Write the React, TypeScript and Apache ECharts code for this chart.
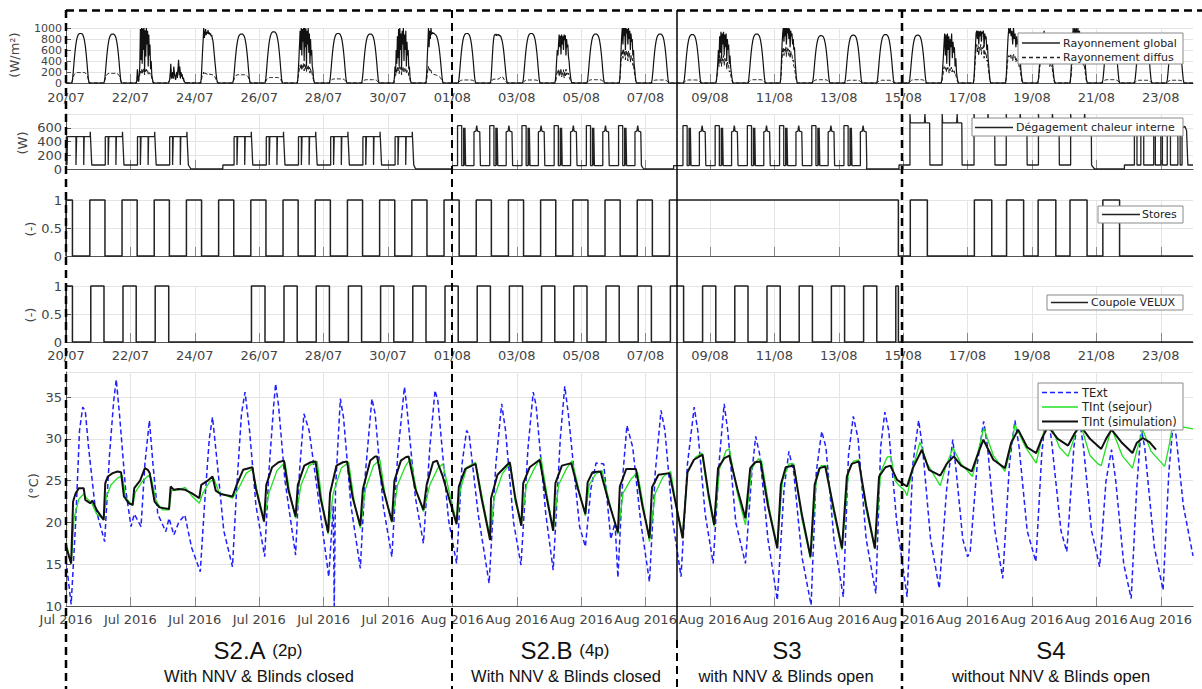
import React, { useEffect, useRef } from "react";
import * as echarts from "echarts";

// ---------- axis ticks ----------
const TICK_DAYS = [0, 2, 4, 6, 8, 10, 12, 14, 16, 18, 20, 22, 24, 26, 28, 30, 32, 34];
const DATE_LABELS = ["20/07", "22/07", "24/07", "26/07", "28/07", "30/07", "01/08", "03/08", "05/08", "07/08", "09/08", "11/08", "13/08", "15/08", "17/08", "19/08", "21/08", "23/08"];
const MONTH_LABELS = ["Jul 2016", "Jul 2016", "Jul 2016", "Jul 2016", "Jul 2016", "Jul 2016", "Aug 2016", "Aug 2016", "Aug 2016", "Aug 2016", "Aug 2016", "Aug 2016", "Aug 2016", "Aug 2016", "Aug 2016", "Aug 2016", "Aug 2016", "Aug 2016"];

// ---------- solar radiation (W/m2) ----------
const RAD_WINDOW = [0.18, 0.72];
const CLEAR_GLOBAL_SHAPE = [0, 0.08, 0.25, 0.45, 0.62, 0.76, 0.86, 0.93, 0.97, 0.99, 1.0, 1.0, 1.0, 0.99, 0.97, 0.93, 0.86, 0.76, 0.62, 0.45, 0.25, 0.08, 0];
const CLEAR_DIFFUSE_SHAPE = [0, 0.3, 0.6, 0.8, 0.9, 0.95, 1, 1, 1, 1, 1, 1, 1, 1, 1, 1, 1, 0.95, 0.9, 0.8, 0.6, 0.3, 0];
const CLEAR_DAYS = [0, 1, 5, 6, 8, 9, 12, 14, 16, 18, 19, 21, 23, 24, 25, 26, 32, 33, 34];
const CLEAR_PEAKS = [900, 890, 890, 930, 900, 890, 900, 900, 890, 890, 880, 890, 860, 870, 880, 870, 880, 880, 880];
const CLEAR_DIFFUSE = [190, 175, 150, 100, 75, 60, 55, 55, 60, 55, 55, 60, 60, 50, 50, 60, 60, 50, 50];
const CLOUDY_DAYS = [2, 3, 4, 7, 10, 11, 13, 15, 17, 20, 22, 27, 28, 29, 30, 31];
const CLOUDY_GLOBAL = [
  [0, 40, 250, 60, 30, 150, 300, 980, 420, 1000, 350, 990, 600, 1000, 200, 960, 480, 1000, 700, 950, 300, 880, 500, 700, 250, 400, 150, 80, 20, 0],
  [0, 20, 60, 150, 350, 80, 120, 200, 90, 300, 180, 110, 60, 150, 200, 100, 250, 420, 180, 300, 90, 200, 130, 160, 70, 100, 40, 20, 10, 0],
  [0, 80, 300, 550, 750, 1000, 820, 900, 980, 870, 930, 900, 960, 890, 920, 880, 900, 850, 870, 800, 760, 650, 520, 400, 280, 160, 70, 20, 0],
  [0, 60, 250, 450, 700, 950, 600, 1000, 500, 980, 750, 1000, 400, 1000, 650, 990, 300, 950, 700, 1000, 550, 900, 350, 800, 500, 600, 300, 250, 100, 30, 0],
  [0, 100, 300, 200, 600, 350, 850, 450, 980, 300, 1000, 600, 900, 250, 950, 700, 1000, 400, 880, 600, 950, 300, 750, 500, 600, 250, 300, 120, 40, 0],
  [0, 150, 450, 700, 1000, 650, 950, 800, 1000, 880, 920, 900, 910, 900, 890, 880, 870, 850, 820, 780, 720, 650, 560, 450, 330, 200, 90, 20, 0],
  [0, 60, 250, 450, 650, 780, 860, 880, 870, 890, 860, 880, 870, 885, 860, 870, 850, 840, 800, 760, 700, 620, 520, 400, 280, 160, 60, 10, 0],
  [0, 50, 200, 420, 600, 500, 700, 880, 650, 860, 520, 880, 700, 850, 600, 880, 780, 870, 500, 800, 650, 700, 480, 400, 250, 150, 60, 10, 0],
  [0, 80, 300, 600, 850, 1000, 700, 1000, 850, 1000, 600, 1000, 900, 980, 700, 1000, 800, 950, 600, 900, 750, 800, 500, 600, 350, 250, 120, 30, 0],
  [0, 50, 180, 350, 600, 400, 850, 550, 930, 450, 900, 700, 930, 500, 880, 650, 900, 400, 800, 600, 700, 350, 500, 300, 200, 100, 30, 0],
  [0, 100, 400, 700, 900, 1000, 750, 1000, 850, 1000, 700, 1000, 900, 1000, 800, 990, 650, 950, 850, 900, 700, 800, 600, 650, 400, 250, 100, 20, 0],
  [0, 60, 250, 450, 700, 900, 500, 880, 350, 900, 600, 850, 300, 800, 650, 900, 450, 750, 550, 650, 300, 450, 200, 100, 30, 0],
  [0, 100, 350, 650, 900, 950, 800, 950, 700, 940, 850, 950, 750, 930, 900, 950, 650, 900, 800, 850, 600, 700, 450, 300, 150, 40, 0],
  [0, 150, 500, 800, 1000, 900, 1000, 850, 950, 700, 1000, 800, 900, 650, 850, 700, 800, 500, 600, 300, 150, 40, 0],
  [0, 100, 300, 500, 800, 600, 900, 500, 950, 700, 900, 550, 850, 650, 800, 450, 700, 500, 550, 300, 150, 40, 0],
  [0, 120, 400, 700, 1000, 800, 1000, 900, 1000, 750, 1000, 850, 950, 700, 900, 800, 850, 600, 700, 400, 200, 50, 0],
];
const CLOUDY_DIFFUSE = [
  [0, 30, 120, 50, 30, 100, 150, 220, 180, 250, 160, 240, 200, 260, 150, 240, 190, 250, 210, 230, 160, 200, 170, 180, 130, 140, 90, 50, 15, 0],
  [0, 20, 50, 120, 250, 70, 100, 160, 80, 220, 150, 100, 60, 130, 170, 90, 200, 300, 150, 240, 80, 170, 110, 130, 60, 80, 30, 15, 5, 0],
  [0, 40, 100, 140, 160, 200, 150, 170, 180, 160, 170, 160, 170, 160, 165, 160, 160, 155, 150, 150, 145, 140, 130, 110, 90, 60, 30, 10, 0],
  [0, 40, 120, 200, 280, 320, 250, 350, 230, 330, 280, 360, 220, 340, 260, 330, 200, 310, 260, 320, 230, 290, 180, 260, 200, 220, 150, 110, 60, 20, 0],
  [0, 60, 150, 120, 250, 180, 300, 220, 280, 170, 300, 240, 280, 150, 280, 230, 290, 200, 260, 220, 270, 170, 230, 190, 200, 130, 120, 70, 20, 0],
  [0, 60, 150, 250, 300, 220, 260, 200, 230, 180, 170, 160, 160, 155, 150, 150, 145, 140, 140, 130, 125, 120, 110, 100, 80, 60, 35, 10, 0],
  [0, 15, 35, 55, 65, 70, 70, 75, 70, 75, 70, 75, 70, 75, 80, 90, 110, 120, 125, 110, 90, 70, 50, 35, 20, 10, 5, 0],
  [0, 20, 60, 150, 220, 180, 250, 120, 230, 150, 260, 110, 200, 150, 240, 90, 200, 130, 250, 150, 200, 160, 180, 120, 80, 50, 20, 5, 0],
  [0, 60, 200, 400, 550, 600, 450, 620, 500, 580, 420, 600, 520, 560, 400, 580, 480, 540, 380, 500, 420, 450, 320, 350, 220, 150, 80, 20, 0],
  [0, 40, 120, 250, 400, 300, 500, 350, 480, 300, 450, 400, 500, 320, 450, 380, 430, 250, 380, 300, 320, 200, 220, 150, 100, 50, 15, 0],
  [0, 80, 250, 450, 600, 650, 500, 620, 550, 660, 480, 640, 560, 620, 500, 600, 450, 580, 500, 520, 400, 420, 300, 280, 200, 120, 50, 10, 0],
  [0, 40, 120, 200, 300, 250, 280, 200, 300, 250, 280, 180, 260, 220, 290, 200, 250, 210, 220, 150, 160, 100, 50, 15, 0],
  [0, 70, 250, 450, 650, 700, 550, 680, 500, 650, 600, 700, 520, 650, 620, 680, 450, 600, 520, 550, 400, 420, 300, 200, 100, 25, 0],
  [0, 100, 300, 450, 500, 480, 520, 450, 500, 400, 520, 450, 480, 380, 450, 400, 420, 300, 330, 180, 90, 20, 0],
  [0, 70, 200, 350, 450, 400, 500, 350, 520, 420, 480, 380, 460, 400, 430, 300, 380, 300, 300, 180, 90, 20, 0],
  [0, 80, 250, 400, 500, 450, 520, 480, 520, 420, 500, 450, 480, 400, 450, 420, 420, 320, 340, 220, 110, 25, 0],
];

// ---------- internal heat gains (W) ----------
const GAIN_2P_FIRST = [[0, 58], [0.01, 58], [0.01, 470], [0.03, 470], [0.03, 60], [0.045, 60], [0.045, 470], [0.31, 470], [0.31, 60], [0.33, 60], [0.33, 470], [0.55, 470], [0.55, 60], [0.565, 60], [0.565, 470], [0.75, 470], [0.755, 540], [0.76, 470], [0.78, 470], [0.8, 58]];
const GAIN_2P_DAY = [[0.22, 58], [0.22, 470], [0.31, 470], [0.31, 60], [0.33, 60], [0.33, 470], [0.55, 470], [0.55, 60], [0.565, 60], [0.565, 470], [0.75, 470], [0.755, 540], [0.76, 470], [0.78, 470], [0.8, 58]];
const GAIN_4P_DAY = [[0.16, 50], [0.16, 630], [0.29, 630], [0.29, 50], [0.35, 50], [0.35, 600], [0.37, 600], [0.37, 50], [0.39, 50], [0.39, 600], [0.41, 600], [0.41, 50], [0.67, 50], [0.67, 540], [0.73, 550], [0.755, 630], [0.78, 550], [0.85, 540], [0.87, 50]];
const GAIN_S4_DAY_A = [[0.21, 58], [0.21, 800], [0.225, 670], [0.66, 670], [0.675, 800], [0.69, 670], [0.82, 670], [0.83, 58]];
const GAIN_S4_DAY_B = [[0.2, 58], [0.2, 800], [0.215, 720], [0.62, 720], [0.635, 800], [0.65, 720], [0.84, 720], [0.85, 58]];
const GAIN_S4_END = [[33.18, 58], [33.18, 560], [33.26, 560], [33.26, 58], [33.38, 58], [33.38, 560], [33.47, 560], [33.47, 58], [33.78, 58], [33.78, 560], [33.83, 560], [33.83, 58], [34.0, 58], [34.0, 560], [34.05, 560], [34.05, 58], [34.2, 58], [34.2, 560], [34.3, 560], [34.3, 58], [34.53, 58], [34.53, 560], [34.6, 560], [34.6, 58], [34.66, 58], [34.66, 600], [34.75, 620], [34.8, 560], [34.84, 58], [35, 58]];
const GAIN_2P_DAYS_A = [1, 2, 3];
const GAIN_2P_DAYS_B = [5, 6, 7, 8, 9, 10];
const GAIN_4P_DAYS_A = [12, 13, 14, 15, 16, 17];
const GAIN_4P_DAYS_B = [19, 20, 21, 22, 23, 24];
const GAIN_S4_DAYS_A = [26, 27];
const GAIN_S4_DAYS_B = [28, 29, 30, 31];

// ---------- blinds / skylight (0/1) : intervals at 1 ----------
const STORES_ON = [[0, 0.2], [0.74, 1.21], [1.74, 2.21], [2.74, 3.21], [3.74, 4.21], [4.74, 5.21], [5.74, 6.21], [6.74, 7.21], [7.74, 8.21], [8.74, 9.21], [9.74, 10.21], [10.74, 11.21], [11.74, 12.21], [12.74, 13.21], [13.74, 14.21], [14.74, 15.21], [15.74, 16.21], [16.74, 17.21], [17.74, 18.21], [18.74, 25.85], [26.22, 26.75], [28.21, 28.75], [29.21, 29.74], [30.19, 30.74], [31.18, 31.71], [32.2, 32.72]];
const VELUX_ON = [[0, 0.2], [0.77, 1.18], [1.77, 2.18], [2.77, 3.19], [5.76, 6.18], [6.77, 7.18], [7.77, 8.18], [8.77, 9.18], [9.77, 10.18], [10.77, 11.18], [11.77, 12.18], [12.77, 13.18], [13.77, 14.18], [14.77, 15.18], [15.77, 16.18], [16.77, 17.18], [17.77, 18.18], [18.77, 19.18], [19.77, 20.18], [20.77, 21.18], [21.77, 22.18], [22.77, 23.18], [23.77, 24.18], [24.77, 25.18], [25.77, 25.85]];

// ---------- temperatures (°C) : [day, value] ----------
const T_EXT = [[0, 15.5], [0.16, 10.2], [0.3, 20], [0.42, 31], [0.52, 33.8], [0.6, 33.3], [0.7, 29], [0.9, 22], [1.2, 17.7], [1.35, 28], [1.48, 34.5], [1.56, 37.1], [1.66, 33], [1.85, 24], [2.02, 19.5], [2.12, 21], [2.33, 19.5], [2.45, 27], [2.59, 32.2], [2.7, 27], [2.85, 21], [3.1, 18.9], [3.2, 20.5], [3.35, 18.5], [3.5, 20], [3.69, 20.9], [3.9, 17], [4.17, 14.1], [4.3, 22], [4.45, 30], [4.55, 32.6], [4.7, 27], [4.9, 19], [5.17, 14.7], [5.3, 24], [5.45, 33], [5.56, 35.6], [5.7, 31], [5.9, 22], [6.17, 15.9], [6.3, 26], [6.45, 34], [6.51, 36.6], [6.6, 34], [6.8, 25], [7.13, 16.1], [7.25, 26], [7.39, 33], [7.55, 31], [7.8, 24], [8.16, 13.5], [8.3, 22], [8.33, 10], [8.37, 24], [8.52, 34.8], [8.62, 32.5], [8.85, 22], [9.14, 14.5], [9.3, 26], [9.5, 34.8], [9.6, 33], [9.85, 22], [10.12, 15.9], [10.3, 28], [10.51, 36.2], [10.58, 34], [10.85, 23], [11.1, 17.5], [11.3, 29], [11.46, 35.8], [11.55, 34.5], [11.88, 20.3], [12.13, 15.1], [12.3, 27], [12.44, 31], [12.52, 30.5], [12.8, 21], [13.14, 12.7], [13.35, 27], [13.53, 34.2], [13.65, 31], [13.9, 20], [14.13, 14.9], [14.35, 29], [14.51, 35.6], [14.6, 34], [14.9, 21], [15.13, 14.3], [15.35, 30], [15.49, 36.3], [15.6, 33], [15.95, 19.5], [16.13, 17.1], [16.3, 24], [16.46, 27.1], [16.7, 27], [16.92, 18], [17.05, 20], [17.14, 13.4], [17.3, 26], [17.42, 31.6], [17.6, 29], [17.85, 20], [18.12, 12.9], [18.3, 26], [18.48, 33.4], [18.6, 31], [18.85, 20], [19.1, 13.5], [19.3, 27], [19.51, 33.8], [19.62, 31], [19.85, 21], [20.1, 15.1], [20.3, 28], [20.44, 34.2], [20.55, 31], [20.8, 20], [21.1, 15.1], [21.3, 26], [21.42, 30.3], [21.55, 28], [21.8, 18], [22.09, 10.7], [22.3, 24], [22.45, 28.5], [22.6, 26], [22.85, 16], [23.14, 10.1], [23.3, 26], [23.47, 30.9], [23.6, 29], [23.85, 18], [24.14, 11.1], [24.3, 28], [24.45, 32.7], [24.6, 30], [24.85, 18], [25.15, 11.5], [25.3, 29], [25.43, 33.2], [25.55, 31], [25.8, 20], [26.12, 11.1], [26.3, 27], [26.48, 32.2], [26.6, 29], [26.85, 18], [27.12, 12.1], [27.35, 24], [27.54, 29.9], [27.65, 26], [27.85, 18], [28.0, 15.9], [28.08, 16.5], [28.3, 27], [28.5, 32.1], [28.62, 29], [28.85, 19], [29.09, 13.3], [29.3, 27], [29.47, 32.2], [29.6, 29], [29.85, 19], [30.12, 15.3], [30.3, 28], [30.45, 34], [30.6, 30], [30.9, 19], [31.08, 16.5], [31.3, 29], [31.45, 33], [31.6, 29], [31.85, 19], [32.1, 14.7], [32.3, 25], [32.47, 28.7], [32.6, 25], [32.85, 15], [33.08, 10.9], [33.25, 24], [33.39, 31.3], [33.5, 29], [33.8, 17], [34.07, 11.9], [34.25, 26], [34.37, 31.3], [34.47, 30.5], [34.7, 22], [35, 16]];
const T_INT_SEJOUR = [[0, 17.6], [0.16, 15], [0.25, 20.5], [0.4, 22.8], [0.55, 23.4], [0.62, 23.0], [0.8, 22.3], [0.95, 21], [1.17, 20.4], [1.25, 23], [1.4, 24.5], [1.6, 25.3], [1.75, 25.6], [1.85, 23], [2.07, 22.0], [2.15, 23.6], [2.35, 24.8], [2.55, 25.6], [2.65, 25.3], [2.8, 22.5], [3.0, 21.5], [3.2, 21.5], [3.28, 23.8], [3.5, 23.9], [3.7, 24.2], [3.9, 23.2], [4.14, 22.3], [4.25, 23.5], [4.45, 24.8], [4.6, 25.2], [4.75, 23.6], [5.17, 22.9], [5.35, 24], [5.6, 25.9], [5.79, 26.4], [5.95, 23.5], [6.15, 20.3], [6.3, 23.5], [6.55, 26.2], [6.8, 27.2], [6.95, 23.5], [7.13, 20.5], [7.3, 24.5], [7.55, 26.8], [7.8, 27.3], [7.95, 22.5], [8.14, 18.6], [8.3, 23.5], [8.55, 26.5], [8.78, 27.2], [8.95, 22.5], [9.14, 19.3], [9.3, 24], [9.55, 26.8], [9.75, 27.5], [9.9, 23.5], [10.12, 20.0], [10.3, 24.5], [10.55, 26.8], [10.7, 27.6], [10.9, 23.5], [11.1, 21.3], [11.3, 24.5], [11.55, 26.5], [11.7, 27.0], [11.88, 24], [12.13, 20.0], [12.25, 24], [12.45, 26.6], [12.72, 27.2], [12.95, 22.5], [13.17, 18.2], [13.3, 23], [13.55, 25.8], [13.8, 27.1], [13.95, 22.5], [14.14, 19.8], [14.3, 24.5], [14.55, 26.5], [14.75, 27.8], [14.95, 23], [15.13, 19.2], [15.3, 24.5], [15.55, 26.5], [15.72, 27.4], [15.95, 23.5], [16.13, 20.8], [16.25, 24.5], [16.45, 25.8], [16.65, 26.2], [16.9, 22], [17.14, 18.6], [17.3, 23.5], [17.55, 25.2], [17.75, 26.0], [17.95, 21.5], [18.12, 17.7], [18.3, 23.5], [18.55, 25.5], [18.78, 26.1], [18.95, 22], [19.15, 18.5], [19.3, 26], [19.55, 27.8], [19.75, 28.3], [19.95, 23], [20.13, 19.5], [20.3, 26.5], [20.5, 28.6], [20.6, 28.8], [20.85, 23.5], [21.1, 19.7], [21.3, 26.5], [21.5, 27.6], [21.6, 27.4], [21.85, 21.5], [22.09, 17.2], [22.25, 25], [22.45, 27.0], [22.6, 27.0], [22.85, 20.5], [23.12, 15.7], [23.3, 25], [23.45, 26.8], [23.6, 26.8], [23.85, 21], [24.1, 16.7], [24.3, 26], [24.45, 27.3], [24.62, 27.5], [24.85, 21.5], [25.12, 16.8], [25.3, 26], [25.5, 27.8], [25.62, 27.9], [25.75, 25], [25.85, 24.5], [26.05, 23.8], [26.12, 23.2], [26.3, 26.5], [26.52, 29.6], [26.75, 27], [27.15, 24.4], [27.35, 27], [27.55, 28.9], [27.8, 27], [28.15, 25.5], [28.3, 28], [28.5, 31.3], [28.8, 28], [29.16, 26.1], [29.35, 29], [29.47, 31.7], [29.8, 29], [30.13, 27.1], [30.3, 30], [30.5, 32.5], [30.85, 29], [31.12, 27.9], [31.3, 30], [31.45, 32.5], [31.8, 28], [32.05, 27], [32.15, 26.8], [32.3, 29], [32.47, 31.3], [32.8, 28], [33.12, 26.5], [33.25, 28.5], [33.44, 31.1], [33.7, 28.5], [34.12, 26.7], [34.25, 29], [34.37, 31.7], [34.6, 31.5], [35, 31.2]];
const T_INT_SIM = [[0, 17.1], [0.16, 15.1], [0.22, 22.5], [0.3, 23.5], [0.4, 24.1], [0.55, 24.1], [0.6, 22.7], [0.75, 22.3], [0.82, 22.6], [0.95, 21.5], [1.17, 20.3], [1.22, 24.7], [1.3, 25.5], [1.45, 25.9], [1.6, 26.1], [1.71, 26.0], [1.8, 23.1], [1.95, 22.3], [2.07, 22.1], [2.12, 24.1], [2.3, 25.0], [2.45, 26.5], [2.54, 26.3], [2.6, 25.9], [2.75, 22.5], [2.9, 21.8], [3.2, 21.6], [3.25, 24.3], [3.35, 23.9], [3.5, 24.0], [3.7, 23.9], [3.9, 23.5], [4.14, 22.9], [4.2, 24.5], [4.4, 25.0], [4.55, 25.5], [4.65, 23.8], [4.8, 23.4], [5.17, 23.1], [5.3, 24.5], [5.5, 26.3], [5.79, 26.6], [5.9, 24], [6.15, 20.1], [6.22, 24.5], [6.4, 26.6], [6.6, 27.2], [6.77, 27.4], [6.9, 24], [7.13, 20.7], [7.2, 24.5], [7.4, 26.8], [7.6, 27.2], [7.75, 27.3], [7.9, 23], [8.14, 18.8], [8.2, 23.5], [8.4, 26.8], [8.6, 27.2], [8.73, 27.3], [8.9, 23], [9.14, 19.6], [9.22, 24], [9.45, 27.4], [9.6, 27.9], [9.66, 27.9], [9.85, 24], [10.12, 20.1], [10.2, 25], [10.4, 27.4], [10.55, 27.8], [10.64, 27.9], [10.85, 24], [11.1, 21.5], [11.2, 24.5], [11.4, 27.2], [11.52, 27.4], [11.7, 25.5], [11.88, 23.1], [12.13, 19.8], [12.2, 24.3], [12.4, 26.4], [12.72, 27.0], [12.9, 23], [13.17, 17.9], [13.2, 22.9], [13.4, 25.7], [13.78, 27.2], [13.95, 23], [14.14, 19.6], [14.2, 24.7], [14.4, 26.6], [14.71, 27.5], [14.9, 23.5], [15.13, 19.0], [15.2, 24.7], [15.4, 26.8], [15.69, 27.1], [15.9, 24], [16.13, 21.0], [16.2, 24.8], [16.35, 26.0], [16.6, 26.1], [16.85, 22.5], [17.14, 18.8], [17.2, 24.3], [17.4, 26.4], [17.7, 26.4], [17.9, 22], [18.12, 18.1], [18.2, 24.2], [18.4, 25.7], [18.74, 25.9], [18.95, 22], [19.15, 18.1], [19.3, 26], [19.5, 27.5], [19.77, 28.1], [19.95, 23.5], [20.13, 19.7], [20.25, 26.5], [20.45, 27.7], [20.6, 28.0], [20.85, 24], [21.1, 20.5], [21.25, 26.5], [21.4, 27.2], [21.57, 27.3], [21.8, 22], [22.09, 16.9], [22.2, 24.5], [22.35, 26.6], [22.6, 26.8], [22.85, 21], [23.12, 15.9], [23.25, 24.5], [23.4, 26.5], [23.58, 26.7], [23.85, 21.5], [24.1, 16.9], [24.25, 25.5], [24.4, 27.0], [24.62, 27.3], [24.85, 22], [25.12, 16.9], [25.25, 25.5], [25.45, 26.6], [25.6, 26.8], [25.81, 25.1], [26.12, 24.3], [26.3, 26.5], [26.58, 28.7], [26.8, 26.3], [27.15, 25.6], [27.35, 27], [27.57, 27.9], [27.8, 26.8], [28.13, 26.1], [28.3, 28], [28.49, 29.9], [28.8, 27.5], [29.16, 26.5], [29.35, 29.5], [29.57, 31.1], [29.85, 29], [30.13, 28.3], [30.3, 30], [30.5, 31.5], [30.8, 30], [31.12, 29.2], [31.3, 30.5], [31.5, 31.6], [31.8, 30], [32.15, 28.8], [32.3, 30], [32.47, 31.1], [32.8, 29.5], [33.12, 28.3], [33.25, 29.5], [33.44, 30.1], [33.65, 29.6], [33.85, 28.7]];

// ---------- builders ----------
function buildRadiation() {
  const g: number[][] = [[0, 0]];
  const df: number[][] = [[0, 0]];
  const span = RAD_WINDOW[1] - RAD_WINDOW[0];
  const put = (arr: number[][], d: number, vals: number[]) => {
    const n = vals.length;
    vals.forEach((v, i) => arr.push([d + RAD_WINDOW[0] + (span * i) / (n - 1), v]));
  };
  for (let d = 0; d < 35; d++) {
    const ci = CLEAR_DAYS.indexOf(d);
    if (ci >= 0) {
      put(g, d, CLEAR_GLOBAL_SHAPE.map((s) => s * CLEAR_PEAKS[ci]));
      put(df, d, CLEAR_DIFFUSE_SHAPE.map((s) => s * CLEAR_DIFFUSE[ci]));
    } else {
      const ki = CLOUDY_DAYS.indexOf(d);
      if (ki >= 0) {
        put(g, d, CLOUDY_GLOBAL[ki]);
        put(df, d, CLOUDY_DIFFUSE[ki]);
      }
    }
  }
  g.push([35, 0]);
  df.push([35, 0]);
  return { g, df };
}

function buildGain() {
  const out: number[][] = [];
  const pat = (d: number, p: number[][]) => p.forEach(([t, w]) => out.push([d + t, w]));
  pat(0, GAIN_2P_FIRST);
  GAIN_2P_DAYS_A.forEach((d) => pat(d, GAIN_2P_DAY));
  out.push([3.88, 0], [4.87, 0], [4.87, 58]);
  GAIN_2P_DAYS_B.forEach((d) => pat(d, GAIN_2P_DAY));
  out.push([10.86, 0], [12.0, 0], [12.0, 50]);
  GAIN_4P_DAYS_A.forEach((d) => pat(d, GAIN_4P_DAY));
  out.push([17.94, 0], [18.87, 0], [18.87, 50]);
  GAIN_4P_DAYS_B.forEach((d) => pat(d, GAIN_4P_DAY));
  out.push([24.86, 0], [25.87, 0], [25.87, 58]);
  GAIN_S4_DAYS_A.forEach((d) => pat(d, GAIN_S4_DAY_A));
  GAIN_S4_DAYS_B.forEach((d) => pat(d, GAIN_S4_DAY_B));
  out.push([31.94, 0], [32.87, 0], [32.87, 58]);
  GAIN_S4_END.forEach((p) => out.push(p));
  return out;
}

function buildSteps(intervals: number[][]) {
  const out: number[][] = [];
  if (intervals[0][0] > 0) out.push([0, 0]);
  intervals.forEach(([a, b]) => {
    out.push([a, 0], [a, 1], [b, 1], [b, 0]);
  });
  out.push([35, 0]);
  return out;
}

// ---------- layout ----------
const LEFT = 66;
const RIGHT = 9;
const GRIDS = [
  { top: 28, height: 55 },
  { top: 114, height: 55 },
  { top: 200, height: 56 },
  { top: 286, height: 56 },
  { top: 372, height: 234 },
];
const AX_FONT = "DejaVu Sans";
const AX_COLOR = "#444";
const GRID_COLOR = "#e4e4e4";

function xAxis(gridIndex: number, kind: string, margin: number) {
  return {
    type: "value",
    gridIndex,
    min: 0,
    max: 35,
    interval: 2,
    axisLine: { show: true, onZero: false, lineStyle: { color: "#555", width: 1 } },
    axisTick: { show: true, inside: true, length: 9, customValues: TICK_DAYS, lineStyle: { color: "#888" } },
    axisLabel: {
      show: kind !== "none",
      customValues: TICK_DAYS,
      margin,
      fontSize: 13,
      fontFamily: AX_FONT,
      color: AX_COLOR,
      formatter: (v: number) => {
        const i = TICK_DAYS.indexOf(Math.round(v));
        if (i < 0) return "";
        return kind === "month" ? MONTH_LABELS[i] : DATE_LABELS[i];
      },
    },
    splitLine: { show: true, lineStyle: { color: GRID_COLOR, width: 1 } },
  };
}

function yAxis(gridIndex: number, min: number, max: number, interval: number, hideMax: boolean, fontSize = 13, lineHeight?: number) {
  return {
    type: "value",
    gridIndex,
    min,
    max,
    interval,
    axisLine: { show: true, lineStyle: { color: "#555", width: 1 } },
    axisTick: { show: true, inside: true, length: 5, lineStyle: { color: "#555" } },
    axisLabel: {
      margin: 4,
      fontSize,
      lineHeight,
      fontFamily: AX_FONT,
      color: AX_COLOR,
      showMaxLabel: !hideMax,
      formatter: (v: number) => String(Math.round(v * 100) / 100),
    },
    splitLine: { show: true, lineStyle: { color: GRID_COLOR, width: 1 } },
  };
}

function lineSeries(idx: number, data: number[][], color: string, width: number, dash?: number[], z = 2) {
  return {
    type: "line",
    xAxisIndex: idx,
    yAxisIndex: idx,
    data,
    symbol: "none",
    showSymbol: false,
    clip: false,
    silent: true,
    z,
    lineStyle: { color, width, type: dash ? dash : "solid" },
  };
}

function vline(x: number, y1: number, y2: number, width: number, dash: number[] | null) {
  return {
    type: "line",
    z: 100,
    silent: true,
    shape: { x1: x, y1, x2: x, y2 },
    style: { stroke: "#000", lineWidth: width, lineDash: dash || undefined },
  };
}

function txt(x: number, y: number, text: string, size: number, opts: any = {}) {
  return {
    type: "text",
    z: 102,
    silent: true,
    x,
    y,
    rotation: opts.rotation || 0,
    style: {
      text,
      fill: opts.fill || "#222",
      fontSize: size,
      fontFamily: opts.family || AX_FONT,
      align: opts.align || "left",
      verticalAlign: "middle",
      rich: opts.rich,
    },
  };
}

function legendBox(x: number, y: number, w: number, h: number) {
  return {
    type: "rect",
    z: 100,
    silent: true,
    shape: { x, y, width: w, height: h },
    style: { fill: "#fff", stroke: "#8a8a8a", lineWidth: 1 },
  };
}

function legendLine(x1: number, x2: number, y: number, color: string, width: number, dash?: number[]) {
  return {
    type: "line",
    z: 101,
    silent: true,
    shape: { x1, y1: y, x2, y2: y },
    style: { stroke: color, lineWidth: width, lineDash: dash || undefined },
  };
}

export default function App() {
  const ref = useRef<HTMLDivElement>(null);
  useEffect(() => {
    if (!ref.current) return;
    const chart = echarts.init(ref.current, undefined, { renderer: "svg" });
    const rad = buildRadiation();
    const LEG_FONT = 11;
    const scenRich = { a: { fontSize: 24, fontFamily: "Liberation Sans", fill: "#111" }, b: { fontSize: 17, fontFamily: "Liberation Sans", fill: "#111" } };
    const option: any = {
      animation: false,
      backgroundColor: "#fff",
      textStyle: { fontFamily: AX_FONT },
      grid: GRIDS.map((g) => ({ left: LEFT, right: RIGHT, top: g.top, height: g.height, outerBoundsMode: "none", containLabel: false })),
      xAxis: [xAxis(0, "date", 8), xAxis(1, "none", 8), xAxis(2, "none", 8), xAxis(3, "date", 7), xAxis(4, "month", 7)],
      yAxis: [yAxis(0, 0, 1000, 200, false, 11, 10), yAxis(1, 0, 800, 200, true), yAxis(2, 0, 1, 0.5, false), yAxis(3, 0, 1, 0.5, false), yAxis(4, 10, 38, 5, true)],
      series: [
        lineSeries(0, rad.df, "#1a1a1a", 1, [4, 2]),
        lineSeries(0, rad.g, "#111", 1.2),
        lineSeries(1, buildGain(), "#222", 1.3),
        lineSeries(2, buildSteps(STORES_ON), "#222", 1.5),
        lineSeries(3, buildSteps(VELUX_ON), "#222", 1.5),
        lineSeries(4, T_EXT, "#1f1fff", 1.5, [5, 3], 2),
        lineSeries(4, T_INT_SEJOUR, "#22e022", 1.3, undefined, 3),
        lineSeries(4, T_INT_SIM, "#111", 2, undefined, 4),
      ],
      graphic: {
        elements: [
          // scenario separators
          { type: "line", z: 100, silent: true, shape: { x1: 66, y1: 10.5, x2: 1202, y2: 10.5 }, style: { stroke: "#000", lineWidth: 2.5, lineDash: [8, 5] } },
          vline(66, 10, 689, 2.5, [8, 5]),
          vline(452, 10, 689, 2, [8, 5]),
          vline(677, 10, 640, 1.5, null),
          vline(677, 640, 689, 2, [8, 5]),
          vline(902, 10, 689, 2.5, [8, 5]),
          // axis titles
          txt(14, 55, "(W/m²)", 13, { rotation: Math.PI / 2, align: "center", fill: "#444" }),
          txt(22, 143, "(W)", 13, { rotation: Math.PI / 2, align: "center", fill: "#444" }),
          txt(30, 229, "(-)", 13, { rotation: Math.PI / 2, align: "center", fill: "#444" }),
          txt(30, 315, "(-)", 13, { rotation: Math.PI / 2, align: "center", fill: "#444" }),
          txt(33, 486, "(°C)", 13, { rotation: Math.PI / 2, align: "center", fill: "#444" }),
          // legends
          legendBox(1018, 33, 165, 31),
          legendLine(1022, 1060, 43, "#222", 1.3),
          txt(1063, 43, "Rayonnement global", LEG_FONT),
          legendLine(1022, 1060, 57.5, "#222", 1.3, [4, 3]),
          txt(1063, 57.5, "Rayonnement diffus", LEG_FONT),
          legendBox(972, 118, 211, 18),
          legendLine(975, 1013, 127.5, "#222", 1.3),
          txt(1016, 127.5, "Dégagement chaleur interne", LEG_FONT),
          legendBox(1098, 206, 85, 17),
          legendLine(1102, 1140, 214.5, "#222", 1.5),
          txt(1142, 214.5, "Stores", LEG_FONT),
          legendBox(1047, 295, 136, 15),
          legendLine(1051, 1088, 302.5, "#222", 1.5),
          txt(1091, 302.5, "Coupole VELUX", LEG_FONT),
          legendBox(1038, 383, 145, 47),
          legendLine(1042, 1078, 392.5, "#1f1fff", 1.5, [5, 3]),
          txt(1082, 392.5, "TExt", 11.5),
          legendLine(1042, 1078, 407, "#22e022", 1.5),
          txt(1082, 407, "TInt (sejour)", 11.5),
          legendLine(1042, 1078, 421.5, "#111", 2),
          txt(1082, 421.5, "TInt (simulation)", 11.5),
          // scenario labels
          txt(258, 650, "{a|S2.A} {b|(2p)}", 24, { align: "center", family: "Liberation Sans", fill: "#111", rich: scenRich }),
          txt(259, 676, "With NNV & Blinds closed", 16.5, { align: "center", family: "Liberation Sans", fill: "#111" }),
          txt(565, 650, "{a|S2.B} {b|(4p)}", 24, { align: "center", family: "Liberation Sans", fill: "#111", rich: scenRich }),
          txt(566, 676, "With NNV & Blinds closed", 16.5, { align: "center", family: "Liberation Sans", fill: "#111" }),
          txt(787, 650, "S3", 24, { align: "center", family: "Liberation Sans", fill: "#111" }),
          txt(786, 676, "with NNV & Blinds open", 16.5, { align: "center", family: "Liberation Sans", fill: "#111" }),
          txt(1051, 650, "S4", 24, { align: "center", family: "Liberation Sans", fill: "#111" }),
          txt(1051, 676, "without NNV & Blinds open", 16.5, { align: "center", family: "Liberation Sans", fill: "#111" }),
        ],
      },
    };
    chart.setOption(option);
    return () => chart.dispose();
  }, []);
  return <div ref={ref} style={{ position: "fixed", left: 0, top: 0, width: 1202, height: 689 }} />;
}
